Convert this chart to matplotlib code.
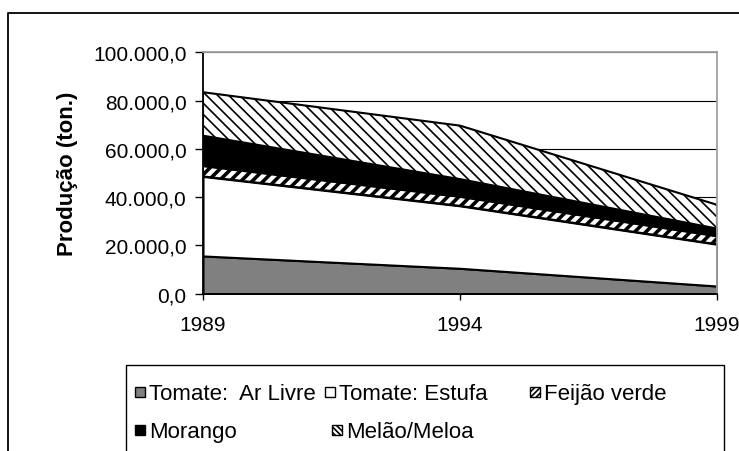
import matplotlib.pyplot as plt
from matplotlib.patches import Rectangle
from matplotlib.lines import Line2D
from matplotlib.transforms import Affine2D

plt.rcParams['font.family'] = ['Liberation Sans', 'DejaVu Sans']

# Data (toneladas), per crop
anos = [1989, 1994, 1999]
ar_livre = [15640, 10520, 3180]
estufa = [32940, 25880, 17300]
feijao = [4430, 3880, 3460]
morango = [12460, 7190, 3050]
melao = [17990, 22150, 9830]

nomes = ['Tomate:  Ar Livre', 'Tomate: Estufa', 'Feijão verde', 'Morango', 'Melão/Meloa']
yticks = [0, 20000, 40000, 60000, 80000, 100000]
ytick_labels = ['0,0', '20.000,0', '40.000,0', '60.000,0', '80.000,0', '100.000,0']

# look of each series: face, hatch in plot, hatch in legend key, hatch width
estilos = [
    ('#808080', None, None, 1.0),
    ('white', None, None, 1.0),
    ('white', '///', '//////', 2.6),
    ('black', None, None, 1.0),
    ('white', '\\\\\\', '\\\\\\\\\\\\', 1.2),
]

W, H = 739, 452
fig = plt.figure(figsize=(W / 100, H / 100), dpi=100)
ax = fig.add_axes([203 / W, 1 - 294.7 / H, 514 / W, 241.4 / H])

# pixel coords, y down from the top
px = Affine2D().scale(1 / W, -1 / H).translate(0, 1) + fig.transFigure

base = [0, 0, 0]
for vals, (fc, hatch, _, hlw) in zip([ar_livre, estufa, feijao, morango, melao], estilos):
    top = [b + v for b, v in zip(base, vals)]
    poly = ax.fill_between(anos, base, top, facecolor=fc, edgecolor='black',
                           hatch=hatch, linewidth=1.5, zorder=2)
    if hatch and hasattr(poly, 'set_hatch_linewidth'):
        poly.set_hatch_linewidth(hlw)
    base = top

ax.set_xlim(1989, 1999)
ax.set_ylim(0, 100000)
ax.set_xticks(anos)
ax.set_xticklabels([str(a) for a in anos])
ax.set_yticks(yticks)
ax.set_yticklabels(ytick_labels)
ax.grid(axis='y', color='black', linewidth=0.8)
ax.set_axisbelow(True)

for s in ['left', 'bottom']:
    ax.spines[s].set_color('black')
    ax.spines[s].set_linewidth(1.3)
for s in ['top', 'right']:
    ax.spines[s].set_color('#a0a0a0')
    ax.spines[s].set_linewidth(1.3)

ax.tick_params(axis='y', length=5.8, width=1, pad=6, labelsize=15)
ax.tick_params(axis='x', length=4.3, width=1, pad=11, labelsize=15)

ax.set_ylabel('Produção (ton.)', fontsize=16, fontweight='bold')
ax.yaxis.set_label_coords(-0.243, 0.5)

# outer chart border
fig.add_artist(Line2D([8, 8, W], [H, 13.5, 13.5], transform=px, color='black', lw=1.3))

# legend box
fig.add_artist(Rectangle((126, 366), 598, 120, transform=px, fill=False,
                         edgecolor='black', lw=1.0))
pos = [(135, 393), (325, 393), (530, 393), (135, 431), (332, 431)]
for nome, (fc, _, khatch, hlw), (x, y) in zip(nomes, estilos, pos):
    r = Rectangle((x, y - 5), 10, 10, transform=px, facecolor=fc,
                  edgecolor='black', hatch=khatch, lw=1.0)
    if khatch and hasattr(r, 'set_hatch_linewidth'):
        r.set_hatch_linewidth(1.2)
    fig.add_artist(r)
    fig.text((x + 14) / W, 1 - (y + 7) / H, nome, fontsize=16, va='baseline', ha='left')

fig.savefig('out.png', dpi=100)
